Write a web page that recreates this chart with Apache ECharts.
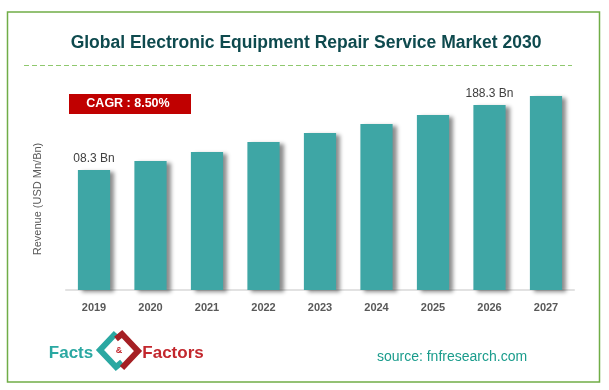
<!DOCTYPE html>
<html><head><meta charset="utf-8">
<script src="https://cdn.jsdelivr.net/npm/echarts@6/dist/echarts.min.js"></script>
<style>html,body{margin:0;padding:0;background:#fff}#c{width:609px;height:390px}</style>
</head><body><div id="c"></div>
<script>
const years = ['2019','2020','2021','2022','2023','2024','2025','2026','2027'];
const revenue = [120,129,138,148,157,166,175,185,194];
const valueLabels = ['08.3 Bn','','','','','','','188.3 Bn',''];
const titleText = 'Global Electronic Equipment Repair Service Market 2030';
const cagrText = 'CAGR : 8.50%';
const yAxisName = 'Revenue (USD Mn/Bn)';
const sourceText = 'source: fnfresearch.com';

const chart = echarts.init(document.getElementById('c'), null, {renderer:'canvas'});
const FONT = 'Liberation Sans';
chart.setOption({
  backgroundColor:'#fff',
  animation:false,
  grid:{left:65.75, right:34.75, top:90, bottom:100},
  xAxis:{type:'category', data:years,
    axisLine:{lineStyle:{color:'#d9d9d9', width:1.5}},
    axisTick:{show:false},
    axisLabel:{color:'#595959', fontWeight:'bold', fontSize:11, fontFamily:FONT, margin:12}},
  yAxis:{type:'value', min:0, max:200, show:false},
  series:[{type:'bar', data:revenue, barWidth:'57%',
    itemStyle:{color:'#3ea6a5', shadowColor:'rgba(0,0,0,0.45)', shadowBlur:4, shadowOffsetX:4, shadowOffsetY:2},
    label:{show:true, position:'top', distance:5, color:'#404040', fontSize:12, fontFamily:FONT,
      formatter:p=>valueLabels[p.dataIndex]}}],
  graphic:[
    {type:'rect', shape:{x:7.5,y:12,width:592,height:370}, style:{fill:'none', stroke:'#70ad47', lineWidth:1.5}, silent:true},
    {type:'text', x:306, y:43, style:{text:titleText, fill:'#0e4a4e', font:'bold 17.5px '+FONT, textAlign:'center', textVerticalAlign:'middle'}},
    {type:'line', shape:{x1:24,y1:65.5,x2:572,y2:65.5}, style:{stroke:'#8fc86e', lineWidth:1, lineDash:[5,3]}},
    {type:'rect', shape:{x:69,y:94,width:122,height:20}, style:{fill:'#c00000'}},
    {type:'text', x:128, y:104, style:{text:cagrText, fill:'#fff', font:'bold 12.5px '+FONT, textAlign:'center', textVerticalAlign:'middle'}},
    {type:'text', x:38, y:199, rotation:Math.PI/2, style:{text:yAxisName, fill:'#595959', font:'11px '+FONT, textAlign:'center', textVerticalAlign:'middle'}},
    {type:'text', x:71, y:353, style:{text:'Facts', fill:'#2aa8a2', font:'bold 17px '+FONT, textAlign:'center', textVerticalAlign:'middle'}},
    {type:'text', x:173, y:353, style:{text:'Factors', fill:'#c3272d', font:'bold 17px '+FONT, textAlign:'center', textVerticalAlign:'middle'}},
    {type:'polyline', shape:{points:[[116,333],[100,350],[116,367],[122,362]]}, style:{stroke:'#2aa8a2', lineWidth:6, fill:'none', lineJoin:'miter'}},
    {type:'polyline', shape:{points:[[116,339],[122,334],[138,351],[122,368]]}, style:{stroke:'#a51f24', lineWidth:6, fill:'none', lineJoin:'miter'}},
    {type:'text', x:119, y:351, style:{text:'&', fill:'#c3272d', font:'bold 9px '+FONT, textAlign:'center', textVerticalAlign:'middle'}},
    {type:'text', x:452, y:357, style:{text:sourceText, fill:'#1a9c8c', font:'14px '+FONT, textAlign:'center', textVerticalAlign:'middle'}}
  ]
});
</script></body></html>
